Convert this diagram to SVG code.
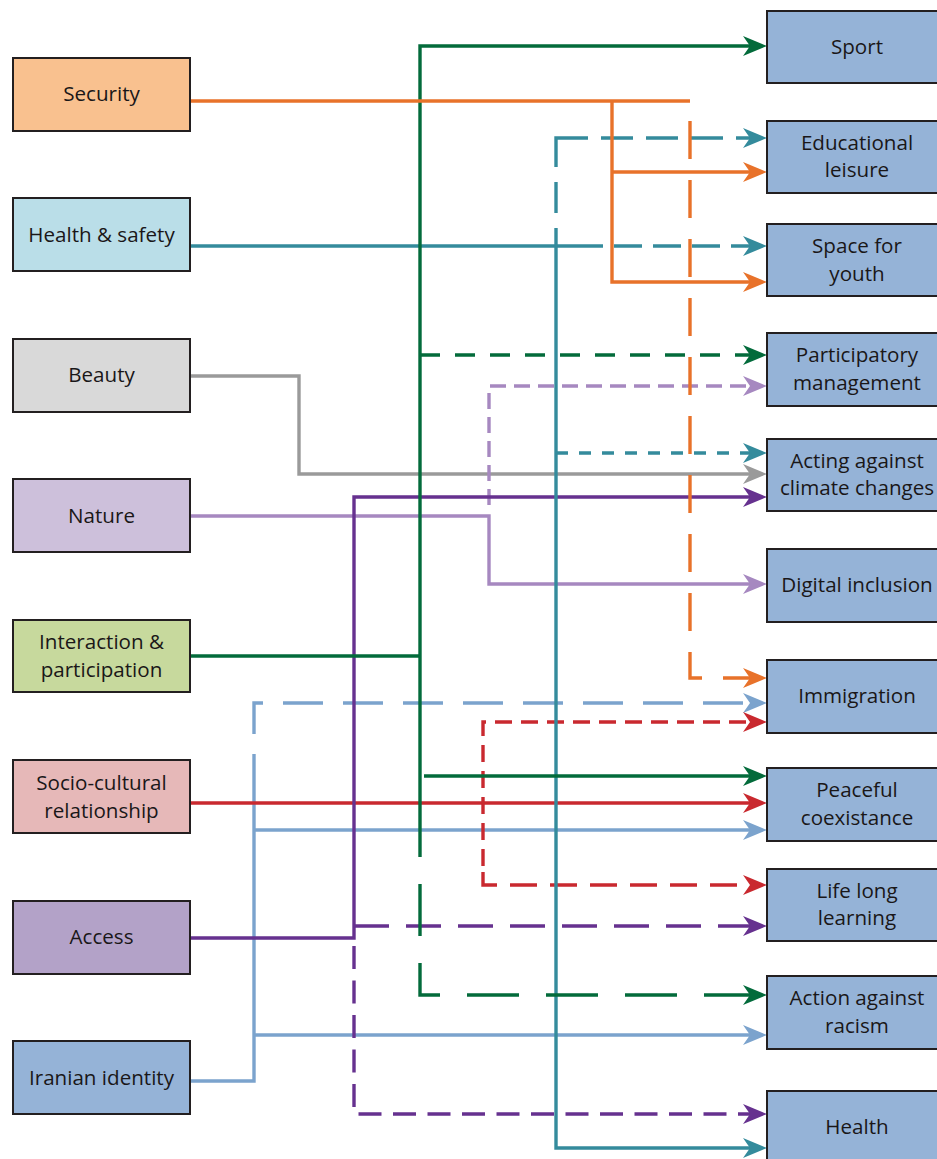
<svg xmlns="http://www.w3.org/2000/svg" width="937" height="1159" viewBox="0 0 937 1159">
  <style>
    .box { stroke: #231f20; stroke-width: 2; }
    .lbl { font-family: "Open Sans", "Noto Sans", sans-serif; font-size: 20.6px; fill: #1a1718; text-anchor: middle; dominant-baseline: central; }
    .c { fill: none; stroke-width: 3.4; stroke-linecap: butt; stroke-linejoin: miter; }
    .or { stroke: #e8722a; }
    .te { stroke: #348b9c; }
    .gr { stroke: #036b3b; }
    .gy { stroke: #9a9a9a; }
    .lp { stroke: #a688c0; }
    .dp { stroke: #66318f; }
    .rd { stroke: #c9292f; }
    .lb { stroke: #7ba3cd; }
  </style>
  <defs>
    <marker id="a-or" markerUnits="userSpaceOnUse" markerWidth="24" markerHeight="20" refX="12" refY="10" orient="auto" overflow="visible"><path d="M0,0 L24,10 L0,20 L7,10 z" fill="#e8722a"/></marker>
    <marker id="a-te" markerUnits="userSpaceOnUse" markerWidth="24" markerHeight="20" refX="12" refY="10" orient="auto" overflow="visible"><path d="M0,0 L24,10 L0,20 L7,10 z" fill="#348b9c"/></marker>
    <marker id="a-gr" markerUnits="userSpaceOnUse" markerWidth="24" markerHeight="20" refX="12" refY="10" orient="auto" overflow="visible"><path d="M0,0 L24,10 L0,20 L7,10 z" fill="#036b3b"/></marker>
    <marker id="a-gy" markerUnits="userSpaceOnUse" markerWidth="24" markerHeight="20" refX="12" refY="10" orient="auto" overflow="visible"><path d="M0,0 L24,10 L0,20 L7,10 z" fill="#9a9a9a"/></marker>
    <marker id="a-lp" markerUnits="userSpaceOnUse" markerWidth="24" markerHeight="20" refX="12" refY="10" orient="auto" overflow="visible"><path d="M0,0 L24,10 L0,20 L7,10 z" fill="#a688c0"/></marker>
    <marker id="a-dp" markerUnits="userSpaceOnUse" markerWidth="24" markerHeight="20" refX="12" refY="10" orient="auto" overflow="visible"><path d="M0,0 L24,10 L0,20 L7,10 z" fill="#66318f"/></marker>
    <marker id="a-rd" markerUnits="userSpaceOnUse" markerWidth="24" markerHeight="20" refX="12" refY="10" orient="auto" overflow="visible"><path d="M0,0 L24,10 L0,20 L7,10 z" fill="#c9292f"/></marker>
    <marker id="a-lb" markerUnits="userSpaceOnUse" markerWidth="24" markerHeight="20" refX="12" refY="10" orient="auto" overflow="visible"><path d="M0,0 L24,10 L0,20 L7,10 z" fill="#7ba3cd"/></marker>
  </defs>

  <rect width="937" height="1159" fill="#ffffff"/>

  <g id="connectors">
    <!-- Beauty -->
    <path class="c gy" d="M190,376 H299 V474 H755" marker-end="url(#a-gy)"/>
    <!-- Nature -->
    <path class="c lp" d="M190,516 H489 V584 H755" marker-end="url(#a-lp)"/>
    <path class="c lp" d="M489,505 V386 H755" stroke-dasharray="16 8" marker-end="url(#a-lp)"/>
    <!-- Iranian identity -->
    <path class="c lb" d="M190,1081 H254 V794"/>
    <path class="c lb" d="M254,794 V703 H755" stroke-dasharray="40 20" marker-end="url(#a-lb)"/>
    <path class="c lb" d="M254,830 H755" marker-end="url(#a-lb)"/>
    <path class="c lb" d="M254,1035 H755" marker-end="url(#a-lb)"/>
    <!-- Socio-cultural relationship -->
    <path class="c rd" d="M190,803 H755" marker-end="url(#a-rd)"/>
    <path class="c rd" d="M483,866 V722 H755" stroke-dasharray="17 9" marker-end="url(#a-rd)"/>
    <path class="c rd" d="M483,872 V885 H755" stroke-dasharray="27 13" marker-end="url(#a-rd)"/>
    <!-- Access -->
    <path class="c dp" d="M190,938 H354 V497 H755" marker-end="url(#a-dp)"/>
    <path class="c dp" d="M354,926 H755" stroke-dasharray="35 17" marker-end="url(#a-dp)"/>
    <path class="c dp" d="M354,940 V1114 H755" stroke-dasharray="23 11.5" stroke-dashoffset="-6" marker-end="url(#a-dp)"/>
    <!-- Health & safety -->
    <path class="c te" d="M190,246 H603"/>
    <path class="c te" d="M614,246 H755" stroke-dasharray="28 11" marker-end="url(#a-te)"/>
    <path class="c te" d="M556,228 V1148 H755" marker-end="url(#a-te)"/>
    <path class="c te" d="M556,213 V182"/>
    <path class="c te" d="M556,167 V138 H588"/>
    <path class="c te" d="M601,138 H755" stroke-dasharray="32 13" marker-end="url(#a-te)"/>
    <path class="c te" d="M556,453 H755" stroke-dasharray="12 11" marker-end="url(#a-te)"/>
    <!-- Interaction & participation -->
    <path class="c gr" d="M190,656 H420"/>
    <path class="c gr" d="M420,857 V46 H755" marker-end="url(#a-gr)"/>
    <path class="c gr" d="M420,355 H755" stroke-dasharray="20 15" marker-end="url(#a-gr)"/>
    <path class="c gr" d="M424,776 H755" marker-end="url(#a-gr)"/>
    <path class="c gr" d="M420,857 V995 H755" stroke-dasharray="52 27" stroke-dashoffset="52" marker-end="url(#a-gr)"/>
    <!-- Security -->
    <path class="c or" d="M190,101 H690"/>
    <path class="c or" d="M612,101 V282 H755" marker-end="url(#a-or)"/>
    <path class="c or" d="M612,172 H755" marker-end="url(#a-or)"/>
    <path class="c or" d="M690,121 V678 H755" stroke-dasharray="38 21" marker-end="url(#a-or)"/>
  </g>

  <!-- value nodes (left column) -->
  <g id="n-security"><rect class="box" x="13" y="58" width="177" height="73" fill="#f9c18f"/><text class="lbl" x="101.5" y="93">Security</text></g>
  <g id="n-health-safety"><rect class="box" x="13" y="198" width="177" height="73" fill="#badee8"/><text class="lbl" x="101.5" y="234">Health &amp; safety</text></g>
  <g id="n-beauty"><rect class="box" x="13" y="339" width="177" height="73" fill="#d9d9d9"/><text class="lbl" x="101.5" y="374">Beauty</text></g>
  <g id="n-nature"><rect class="box" x="13" y="479" width="177" height="73" fill="#cdc0db"/><text class="lbl" x="101.5" y="515">Nature</text></g>
  <g id="n-interaction"><rect class="box" x="13" y="620" width="177" height="72" fill="#c7d99d"/><text class="lbl" x="101.5" y="641">Interaction &amp;</text><text class="lbl" x="101.5" y="669">participation</text></g>
  <g id="n-socio"><rect class="box" x="13" y="760" width="177" height="73" fill="#e6b8b8"/><text class="lbl" x="101.5" y="782">Socio-cultural</text><text class="lbl" x="101.5" y="810">relationship</text></g>
  <g id="n-access"><rect class="box" x="13" y="901" width="177" height="73" fill="#b3a2c8"/><text class="lbl" x="101.5" y="936">Access</text></g>
  <g id="n-iranian"><rect class="box" x="13" y="1041" width="177" height="73" fill="#95b3d7"/><text class="lbl" x="101.5" y="1077">Iranian identity</text></g>

  <!-- outcome nodes (right column) -->
  <g id="n-sport"><rect class="box" x="767" y="11" width="180" height="72" fill="#95b3d7"/><text class="lbl" x="857" y="46">Sport</text></g>
  <g id="n-educational"><rect class="box" x="767" y="121" width="180" height="72" fill="#95b3d7"/><text class="lbl" x="857" y="142">Educational</text><text class="lbl" x="857" y="169">leisure</text></g>
  <g id="n-youth"><rect class="box" x="767" y="224" width="180" height="72" fill="#95b3d7"/><text class="lbl" x="857" y="245">Space for</text><text class="lbl" x="857" y="273">youth</text></g>
  <g id="n-participatory"><rect class="box" x="767" y="333" width="180" height="73" fill="#95b3d7"/><text class="lbl" x="857" y="354">Participatory</text><text class="lbl" x="857" y="382">management</text></g>
  <g id="n-climate"><rect class="box" x="767" y="439" width="180" height="72" fill="#95b3d7"/><text class="lbl" x="857" y="460">Acting against</text><text class="lbl" x="857" y="487">climate changes</text></g>
  <g id="n-digital"><rect class="box" x="767" y="549" width="180" height="73" fill="#95b3d7"/><text class="lbl" x="857" y="584">Digital inclusion</text></g>
  <g id="n-immigration"><rect class="box" x="767" y="660" width="180" height="73" fill="#95b3d7"/><text class="lbl" x="857" y="695">Immigration</text></g>
  <g id="n-peaceful"><rect class="box" x="767" y="768" width="180" height="73" fill="#95b3d7"/><text class="lbl" x="857" y="789">Peaceful</text><text class="lbl" x="857" y="817">coexistance</text></g>
  <g id="n-lifelong"><rect class="box" x="767" y="869" width="180" height="72" fill="#95b3d7"/><text class="lbl" x="857" y="890">Life long</text><text class="lbl" x="857" y="917">learning</text></g>
  <g id="n-racism"><rect class="box" x="767" y="976" width="180" height="73" fill="#95b3d7"/><text class="lbl" x="857" y="997">Action against</text><text class="lbl" x="857" y="1025">racism</text></g>
  <g id="n-health"><rect class="box" x="767" y="1091" width="180" height="73" fill="#95b3d7"/><text class="lbl" x="857" y="1126">Health</text></g>
</svg>
